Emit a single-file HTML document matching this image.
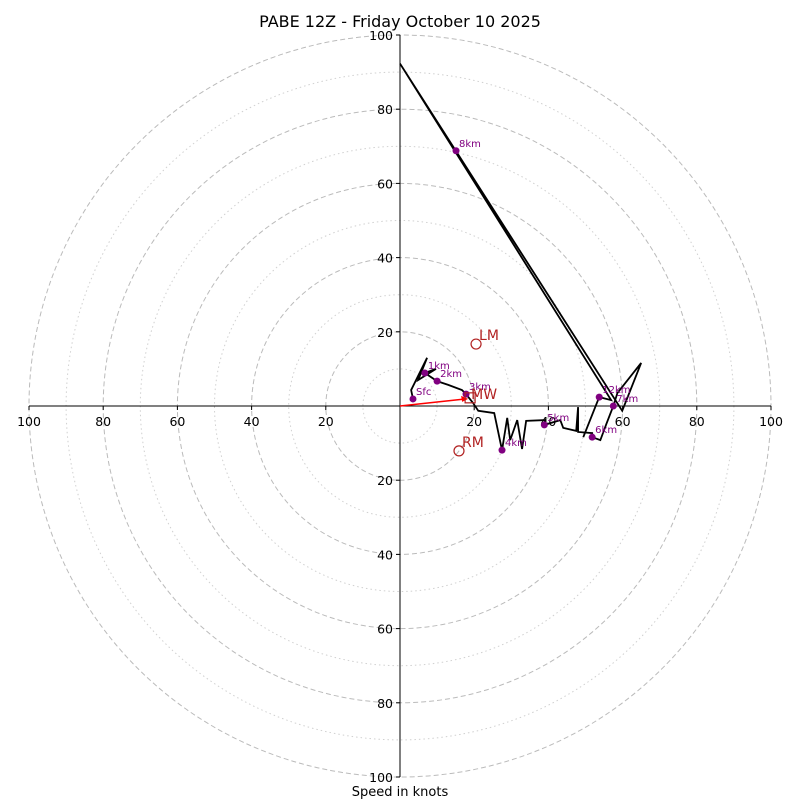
<!DOCTYPE html>
<html><head><meta charset="utf-8"><style>
html,body{margin:0;padding:0;background:#fff;}
svg{display:block;font-family:"DejaVu Sans","Liberation Sans",sans-serif;}
</style></head><body>
<svg id="chart" width="800" height="800" viewBox="0 0 800 800">
<text x="400" y="27" text-anchor="middle" font-size="16">PABE 12Z - Friday October 10 2025</text>
<g id="rings"></g>
<g id="axes"></g>
<g id="trace"></g>
<g id="marks"></g>
<text x="400" y="796" text-anchor="middle" font-size="13">Speed in knots</text>
</svg>
<script>
// data (knots)
const traceU = [3.5,3.0,7.3,4.9,9.7,6.7,10.0,13.0,16.7,17.8,19.7,21.1,25.4,27.5,28.9,29.7,31.6,32.9,34.0,39.1,38.9,43.2,44.0,47.5,48.0,48.0,51.8,51.8,54.0,55.6,57.5,58.6,65.0,59.9,0,56.9,53.7,49.4];
const traceV = [1.9,4.3,13.0,7.0,10.0,8.9,6.7,5.7,4.3,3.2,0.8,-1.3,-1.9,-11.9,-3.2,-9.2,-3.8,-11.6,-4.0,-3.8,-5.1,-3.8,-5.9,-6.7,-0.3,-7.0,-7.3,-8.4,-9.2,-4.9,0,3.5,11.6,-1.3,92.3,1.6,2.4,-8.4];
const levelNames = ["Sfc","1km","2km","3km","4km","5km","6km","7km","8km","12km"];
const levelU = [3.5,6.7,10.0,17.8,27.5,38.9,51.8,57.5,15.1,53.7];
const levelV = [1.9,8.9,6.7,3.2,-11.9,-5.1,-8.4,0,68.8,2.4];
const motionNames = ["LM","RM"];
const motionU = [20.5,15.9];
const motionV = [16.7,-12.1];
const meanWind = [18.9,2.2];
const ringValues = [10,20,30,40,50,60,70,80,90,100];
const tickLabels = [20,40,60,80,100];

const NS="http://www.w3.org/2000/svg";
const cx=400, cy=406, R=371, maxK=100;
const sx=u=>cx+u*R/maxK, sy=v=>cy-v*R/maxK, sr=k=>k*R/maxK;
function mk(tag,attrs,parent,txt){const e=document.createElementNS(NS,tag);for(const k in attrs)e.setAttribute(k,attrs[k]);if(txt!==undefined)e.textContent=txt;parent.appendChild(e);return e;}
const rings=document.getElementById('rings'),axes=document.getElementById('axes'),trace=document.getElementById('trace'),marks=document.getElementById('marks');
ringValues.forEach(r=>{
  const c=mk('circle',{cx:cx,cy:cy,r:sr(r),fill:'none',stroke:r%20===0?'#bbbbbb':'#d0d0d0','stroke-width':1,'stroke-dasharray':r%20===0?'5,3':'1.5,3'},rings);
  
  
});
let l=mk('line',{x1:cx-R,y1:cy,x2:cx+R,y2:cy,stroke:'#000','stroke-width':1},axes);


l=mk('line',{x1:cx,y1:cy-R,x2:cx,y2:cy+R,stroke:'#000','stroke-width':1},axes);


tickLabels.forEach(t=>{
  [sx(-t),sx(t)].forEach(x=>{
    mk('line',{x1:x,y1:cy,x2:x,y2:cy+4,stroke:'#000'},axes);
    const e=mk('text',{x:x,y:cy+20,'text-anchor':'middle','font-size':12.5},axes,String(t));
    
    
  });
  [sy(t),sy(-t)].forEach(y=>{
    mk('line',{x1:cx-4,y1:y,x2:cx,y2:y,stroke:'#000'},axes);
    const e=mk('text',{x:cx-7,y:y+5,'text-anchor':'end','font-size':12.5},axes,String(t));
    
    
  });
});
const pl=mk('polyline',{points:traceU.map((u,i)=>sx(u)+','+sy(traceV[i])).join(' '),fill:'none',stroke:'#000','stroke-width':1.8,'stroke-linejoin':'miter'},trace);


levelNames.forEach((n,i)=>{
  const c=mk('circle',{cx:sx(levelU[i]),cy:sy(levelV[i]),r:3.5,fill:'purple'},marks);
  
  
  const t=mk('text',{x:sx(levelU[i])+3,y:sy(levelV[i])-4,'font-size':10,fill:'purple'},marks,n);
  
  
});
const ar=mk('line',{x1:cx,y1:cy,x2:sx(meanWind[0])-4,y2:sy(meanWind[1])+1,stroke:'red','stroke-width':1.5},marks);


const ah=mk('polygon',{points:`${sx(meanWind[0])-2},${sy(meanWind[1])+1} ${sx(meanWind[0])-9},${sy(meanWind[1])-2} ${sx(meanWind[0])-8},${sy(meanWind[1])+4}`,fill:'red'},marks);


const sq=mk('rect',{x:sx(meanWind[0])-5,y:sy(meanWind[1])-5,width:10,height:10,fill:'none',stroke:'#b22222','stroke-width':1.2},marks);


const mwt=mk('text',{x:sx(meanWind[0])+1,y:sy(meanWind[1])+1,'font-size':14,fill:'#b22222'},marks,'MW');


motionNames.forEach((n,i)=>{
  const c=mk('circle',{cx:sx(motionU[i]),cy:sy(motionV[i]),r:5,fill:'none',stroke:'#b22222','stroke-width':1.2},marks);
  
  
  const t=mk('text',{x:sx(motionU[i])+3,y:sy(motionV[i])-4,'font-size':14,fill:'#b22222'},marks,n);
  
  
});
</script>
</body></html>
